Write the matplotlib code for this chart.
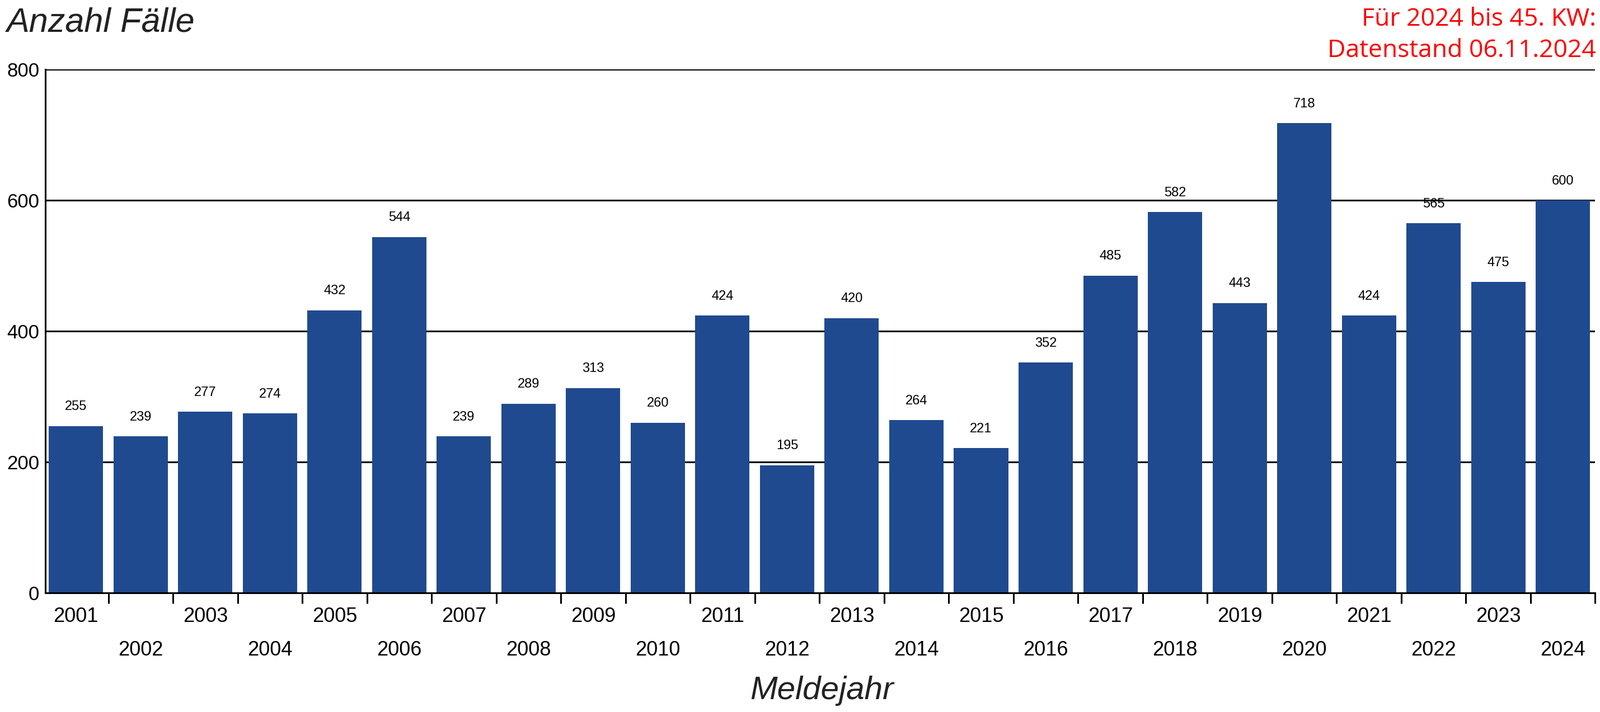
import numpy as np
import matplotlib.pyplot as plt

years = list(range(2001, 2025))
cases = [255, 239, 277, 274, 432, 544, 239, 289, 313, 260, 424, 195,
         420, 264, 221, 352, 485, 582, 443, 718, 424, 565, 475, 600]
yticks = [0, 200, 400, 600, 800]

fig = plt.figure(figsize=(28.59, 12.73), dpi=100)
ax = fig.add_axes([0.0285, 0.1673, 0.9685, 0.7353])

x = np.arange(len(years))
ax.bar(x, cases, width=0.84, color="#204A8F", zorder=2)
for xi, v in zip(x, cases):
    ax.text(xi, v + 20, str(v), ha="center", va="bottom", fontsize=17,
            family="Liberation Sans")

ax.set_xlim(-0.47, len(years) - 0.53)
ax.set_ylim(0, 800)
ax.set_yticks(yticks)
ax.set_yticklabels([str(t) for t in yticks], fontsize=25, family="Liberation Sans")
ax.tick_params(axis="y", length=0, pad=8)
for t in yticks[1:]:
    ax.axhline(t, color="black", lw=2.2, zorder=1)

ax.set_xticks(x + 0.5)
ax.set_xticklabels([])
ax.tick_params(axis="x", length=14, width=2.2, direction="out")
for xi, yr in zip(x, years):
    off = -0.045 if xi % 2 == 0 else -0.11
    ax.text(xi, off, str(yr), transform=ax.get_xaxis_transform(), ha="center",
            va="center", fontsize=26, family="Liberation Sans")

for s in ["top", "right"]:
    ax.spines[s].set_visible(False)
ax.spines["left"].set_linewidth(2.2)
ax.spines["bottom"].set_linewidth(2.2)

fig.text(0.004, 0.99, "Anzahl Fälle", fontsize=44, style="italic",
         family="Liberation Sans", ha="left", va="top", color="#222222")
fig.text(0.5135, 0.03, "Meldejahr", fontsize=42, style="italic",
         family="Liberation Sans", ha="center", va="center", color="#222222")
fig.text(0.9975, 0.99, "Für 2024 bis 45. KW:\nDatenstand 06.11.2024", fontsize=32,
         family="Open Sans", color="red", ha="right", va="top", linespacing=1.35)

fig.savefig("out.png", dpi=100)
